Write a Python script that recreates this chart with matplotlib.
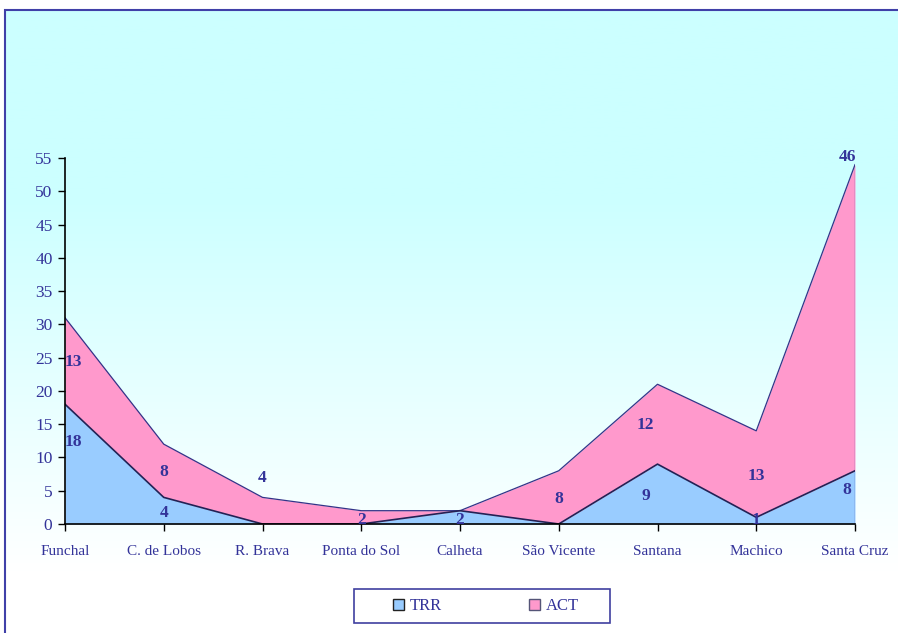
import numpy as np
import matplotlib
matplotlib.use("Agg")
import matplotlib.pyplot as plt
from matplotlib.patches import Rectangle, Patch

# concelhos e contagens por tipo
concelhos = ["Funchal", "C. de Lobos", "R. Brava", "Ponta do Sol", "Calheta",
             "São Vicente", "Santana", "Machico", "Santa Cruz"]
trr = [18, 4, 0, 0, 2, 0, 9, 1, 8]
act = [13, 8, 4, 2, 0, 8, 12, 13, 46]

# onde ficam os rótulos (y em unidades do eixo, x em pixels de deslocamento)
trr_lab_y = [12.3, 1.6, None, None, 0.6, None, 4.2, 0.6, 5.1]
act_lab_y = [24.3, 7.8, 6.9, 0.6, None, 3.8, 14.9, 7.2, 55.1]
lab_dx = [8, 0, 0, 0, 0, 0, -12, 0, -8]

W, H = 898, 633
fig = plt.figure(figsize=(W / 100, H / 100), dpi=100)
plt.rcParams['font.family'] = ['Liberation Serif', 'DejaVu Serif']
txt = '#333399'

# fundo em degradé ciano -> branco dentro da moldura
bg = fig.add_axes([4 / W, 0, 1 - 4 / W, 1 - 10 / H])
bg.axis('off')
n = 400
g = np.linspace(0, 1, n)
t = np.clip((g - 0.30) / 0.60, 0, 1)
top = np.array([0.80, 1.0, 1.0])
cols = top[None, :] * (1 - t[:, None]) + np.ones(3)[None, :] * t[:, None]
bg.imshow(cols[:, None, :], aspect='auto', extent=[0, 1, 0, 1], origin='upper')
bg.set_xlim(0, 1)
bg.set_ylim(0, 1)
fig.patches.append(Rectangle((4.5 / W, -0.1), 1.2, 1.1 - 10.5 / H, transform=fig.transFigure,
                             fill=False, edgecolor='#4040a8', lw=1.5))

ax = fig.add_axes([65 / W, (H - 524) / H, (855 - 65) / W, (524 - 158) / H])
ax.patch.set_alpha(0)
x = np.arange(len(concelhos))
tot = np.array(trr) + np.array(act)
ax.fill_between(x, 0, trr, color='#99ccff', lw=0)
ax.fill_between(x, trr, tot, color='#ff99cc', lw=0)
ax.plot(x, tot, color='#333388', lw=0.9)
ax.plot(x, trr, color='#222255', lw=1.2)
ax.plot([x[-1], x[-1]], [0, tot[-1]], color='#333388', lw=0.9)

ax.set_xlim(0, len(x) - 1)
ax.set_ylim(0, 55)
ax.set_yticks(range(0, 56, 5))
ax.set_xticks(x)
ax.set_xticklabels(concelhos)
ax.tick_params(axis='both', colors='black', labelcolor=txt, length=5, width=1)
ax.tick_params(axis='x', pad=10, labelsize=11)
ax.tick_params(axis='y', pad=4, labelsize=12.5)
for s in ['top', 'right']:
    ax.spines[s].set_visible(False)
for s in ['left', 'bottom']:
    ax.spines[s].set_linewidth(1.2)

for i in range(len(x)):
    for v, ly in ((trr[i], trr_lab_y[i]), (act[i], act_lab_y[i])):
        if ly is None:
            continue
        ax.annotate(str(v), (x[i], ly), xytext=(lab_dx[i] * 0.72, 0), textcoords='offset points',
                    ha='center', va='center', color=txt, fontsize=12.5, fontweight='bold',
                    annotation_clip=False)

# caixa da legenda desenhada à parte
fig.patches.append(Rectangle((354 / W, 1 - 623 / H), 256 / W, 34 / H, transform=fig.transFigure,
                             facecolor='white', edgecolor='#4040a0', lw=1.2, zorder=5))
handles = [Patch(facecolor='#99ccff', edgecolor='#222222', label='TRR'),
           Patch(facecolor='#ff99cc', edgecolor='#555577', label='ACT')]
leg = fig.legend(handles=handles, ncol=2, loc='center', bbox_to_anchor=(486 / W, 1 - 606 / H),
                 frameon=False, fontsize=12, handlelength=0.65, handleheight=0.65,
                 handletextpad=0.35, columnspacing=5.2, borderpad=0, borderaxespad=0,
                 labelcolor=txt)
leg.set_zorder(6)

fig.savefig('out.png', dpi=100)
